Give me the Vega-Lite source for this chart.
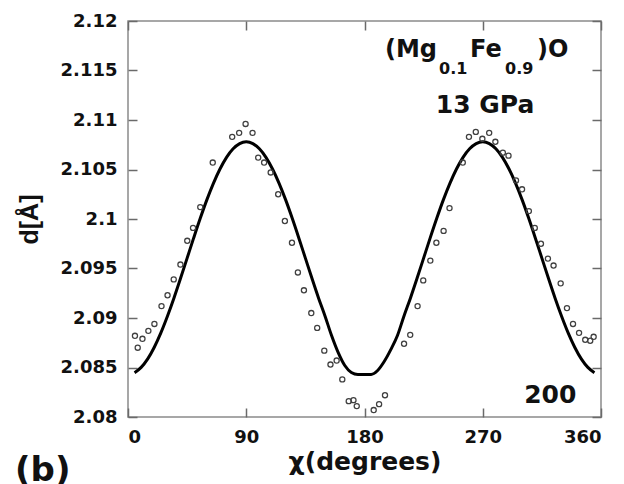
{
  "$schema": "https://vega.github.io/schema/vega-lite/v6.json",
  "width": 473,
  "height": 396,
  "autosize": {"type": "none"},
  "padding": {"left": 128, "top": 21, "right": 23, "bottom": 67},
  "background": "white",
  "config": {
    "view": {"stroke": "#8a8a8a", "strokeWidth": 1.5},
    "axis": {
      "labelFont": "DejaVu Sans", "labelFontWeight": "bold", "labelFontSize": 18, "labelColor": "#111",
      "tickColor": "#6a6a6a", "tickWidth": 1.5, "tickSize": 9, "offset": -9, "domain": false, "grid": false,
      "titleFont": "DejaVu Sans", "titleFontWeight": "bold", "titleColor": "#111"
    }
  },
  "datasets": {
    "fit": [
      {"chi": 5, "d": 2.08448}, {"chi": 10, "d": 2.08501}, {"chi": 15, "d": 2.08587}, {"chi": 20, "d": 2.08705},
      {"chi": 25, "d": 2.0885}, {"chi": 30, "d": 2.09018}, {"chi": 35, "d": 2.09203}, {"chi": 40, "d": 2.09401},
      {"chi": 45, "d": 2.09605}, {"chi": 50, "d": 2.09809}, {"chi": 55, "d": 2.10007}, {"chi": 60, "d": 2.10193},
      {"chi": 65, "d": 2.1036}, {"chi": 70, "d": 2.10505}, {"chi": 75, "d": 2.10623}, {"chi": 80, "d": 2.10709},
      {"chi": 85, "d": 2.10762}, {"chi": 90, "d": 2.1078}, {"chi": 95, "d": 2.10762}, {"chi": 100, "d": 2.10709},
      {"chi": 105, "d": 2.10623}, {"chi": 110, "d": 2.10505}, {"chi": 115, "d": 2.1036}, {"chi": 120, "d": 2.10193},
      {"chi": 125, "d": 2.10007}, {"chi": 130, "d": 2.09809}, {"chi": 135, "d": 2.09605}, {"chi": 140, "d": 2.09401},
      {"chi": 145, "d": 2.09203}, {"chi": 150, "d": 2.09018}, {"chi": 155, "d": 2.0882}, {"chi": 160, "d": 2.0865},
      {"chi": 165, "d": 2.0852}, {"chi": 170, "d": 2.0845}, {"chi": 175, "d": 2.0843}, {"chi": 180, "d": 2.0843},
      {"chi": 185, "d": 2.0843}, {"chi": 190, "d": 2.0847}, {"chi": 195, "d": 2.0856}, {"chi": 200, "d": 2.0868},
      {"chi": 205, "d": 2.0882}, {"chi": 210, "d": 2.09018}, {"chi": 215, "d": 2.09203}, {"chi": 220, "d": 2.09401},
      {"chi": 225, "d": 2.09605}, {"chi": 230, "d": 2.09809}, {"chi": 235, "d": 2.10007}, {"chi": 240, "d": 2.10193},
      {"chi": 245, "d": 2.1036}, {"chi": 250, "d": 2.10505}, {"chi": 255, "d": 2.10623}, {"chi": 260, "d": 2.10709},
      {"chi": 265, "d": 2.10762}, {"chi": 270, "d": 2.1078}, {"chi": 275, "d": 2.10762}, {"chi": 280, "d": 2.10709},
      {"chi": 285, "d": 2.10623}, {"chi": 290, "d": 2.10505}, {"chi": 295, "d": 2.1036}, {"chi": 300, "d": 2.10193},
      {"chi": 305, "d": 2.10007}, {"chi": 310, "d": 2.09809}, {"chi": 315, "d": 2.09605}, {"chi": 320, "d": 2.09401},
      {"chi": 325, "d": 2.09203}, {"chi": 330, "d": 2.09018}, {"chi": 335, "d": 2.0885}, {"chi": 340, "d": 2.08705},
      {"chi": 345, "d": 2.08587}, {"chi": 350, "d": 2.08501}, {"chi": 355, "d": 2.08448}
    ],
    "obs": [
      {"chi": 5.3, "d": 2.0882}, {"chi": 7.4, "d": 2.087}, {"chi": 11.0, "d": 2.0879}, {"chi": 15.5, "d": 2.0887},
      {"chi": 20.1, "d": 2.0894}, {"chi": 25.5, "d": 2.0912}, {"chi": 30.1, "d": 2.0923}, {"chi": 34.8, "d": 2.0939},
      {"chi": 39.9, "d": 2.0954}, {"chi": 45.1, "d": 2.0978}, {"chi": 49.5, "d": 2.0991}, {"chi": 55.0, "d": 2.1012},
      {"chi": 64.5, "d": 2.1057}, {"chi": 79.3, "d": 2.1083}, {"chi": 84.6, "d": 2.1087}, {"chi": 89.5, "d": 2.1096},
      {"chi": 94.8, "d": 2.1087}, {"chi": 99.1, "d": 2.1062}, {"chi": 103.6, "d": 2.1057}, {"chi": 108.6, "d": 2.1047},
      {"chi": 114.3, "d": 2.1025}, {"chi": 119.4, "d": 2.0998}, {"chi": 124.8, "d": 2.0976}, {"chi": 129.3, "d": 2.0946},
      {"chi": 133.9, "d": 2.0928}, {"chi": 139.5, "d": 2.0905}, {"chi": 144.0, "d": 2.089}, {"chi": 149.4, "d": 2.0867},
      {"chi": 154.1, "d": 2.0853}, {"chi": 158.8, "d": 2.0857}, {"chi": 163.1, "d": 2.0838}, {"chi": 168.0, "d": 2.0816},
      {"chi": 171.6, "d": 2.0817}, {"chi": 174.1, "d": 2.0811}, {"chi": 187.0, "d": 2.0807}, {"chi": 191.1, "d": 2.0813},
      {"chi": 195.6, "d": 2.0822}, {"chi": 210.1, "d": 2.0874}, {"chi": 214.8, "d": 2.0883}, {"chi": 220.4, "d": 2.0912},
      {"chi": 224.7, "d": 2.0938}, {"chi": 230.1, "d": 2.0958}, {"chi": 234.7, "d": 2.0976}, {"chi": 240.2, "d": 2.0988},
      {"chi": 244.7, "d": 2.1011}, {"chi": 254.8, "d": 2.1057}, {"chi": 259.5, "d": 2.1083}, {"chi": 264.7, "d": 2.1088},
      {"chi": 269.7, "d": 2.1081}, {"chi": 274.9, "d": 2.1087}, {"chi": 279.6, "d": 2.1078}, {"chi": 285.3, "d": 2.1067},
      {"chi": 289.6, "d": 2.1064}, {"chi": 295.3, "d": 2.1039}, {"chi": 299.9, "d": 2.103}, {"chi": 305.1, "d": 2.1008},
      {"chi": 309.6, "d": 2.0991}, {"chi": 314.3, "d": 2.0975}, {"chi": 319.6, "d": 2.096}, {"chi": 323.9, "d": 2.0953},
      {"chi": 329.3, "d": 2.0935}, {"chi": 334.1, "d": 2.091}, {"chi": 338.7, "d": 2.0894}, {"chi": 343.3, "d": 2.0885},
      {"chi": 348.0, "d": 2.0878}, {"chi": 351.8, "d": 2.0877}, {"chi": 354.4, "d": 2.0881}
    ],
    "formula": [{"chi": 195.6, "d": 2.11634}],
    "pressure": [{"chi": 271.8, "d": 2.1107, "label": "13 GPa"}],
    "refl": [{"chi": 321.4, "d": 2.0814, "label": "200"}],
    "panel": [{"chi": -86, "d": 2.0735, "label": "(b)"}]
  },
  "layer": [
    {
      "data": {"name": "fit"},
      "mark": {"type": "line", "color": "black", "strokeWidth": 3, "interpolate": "monotone"},
      "encoding": {
        "x": {"field": "chi", "type": "quantitative",
              "scale": {"domain": [0, 360], "nice": false, "zero": false},
              "axis": {"orient": "bottom", "values": [0, 90, 180, 270, 360],
                       "labelPadding": 11, "title": "χ(degrees)", "titleFontSize": 25, "titlePadding": 3}},
        "y": {"field": "d", "type": "quantitative",
              "scale": {"domain": [2.08, 2.12], "nice": false, "zero": false},
              "axis": {"orient": "left", "values": [2.08, 2.085, 2.09, 2.095, 2.1, 2.105, 2.11, 2.115, 2.12],
                       "format": ".4~f", "labelPadding": 11,
                       "title": "d[Å]", "titleFont": "Liberation Sans", "titleFontSize": 25, "titlePadding": 18}}
      }
    },
    {
      "data": {"name": "obs"},
      "mark": {"type": "point", "filled": false, "size": 26, "stroke": "#404040", "strokeWidth": 1.3, "opacity": 1},
      "encoding": {
        "x": {"field": "chi", "type": "quantitative",
              "axis": {"orient": "top", "values": [0, 90, 180, 270, 360], "labels": false, "title": null}},
        "y": {"field": "d", "type": "quantitative",
              "axis": {"orient": "right", "values": [2.08, 2.085, 2.09, 2.095, 2.1, 2.105, 2.11, 2.115, 2.12],
                       "labels": false, "title": null}}
      }
    },
    {
      "data": {"name": "formula"},
      "mark": {"type": "text", "text": "(Mg", "align": "left", "baseline": "alphabetic", "font": "DejaVu Sans", "fontWeight": "bold", "fontSize": 24, "color": "#111"},
      "encoding": {"x": {"field": "chi", "type": "quantitative", "axis": null}, "y": {"field": "d", "type": "quantitative", "axis": null}}
    },
    {
      "data": {"name": "formula"},
      "mark": {"type": "text", "text": "0.1", "align": "left", "baseline": "alphabetic", "dx": 54, "dy": 17, "font": "DejaVu Sans", "fontWeight": "bold", "fontSize": 16, "color": "#111"},
      "encoding": {"x": {"field": "chi", "type": "quantitative", "axis": null}, "y": {"field": "d", "type": "quantitative", "axis": null}}
    },
    {
      "data": {"name": "formula"},
      "mark": {"type": "text", "text": "Fe", "align": "left", "baseline": "alphabetic", "dx": 85, "font": "DejaVu Sans", "fontWeight": "bold", "fontSize": 24, "color": "#111"},
      "encoding": {"x": {"field": "chi", "type": "quantitative", "axis": null}, "y": {"field": "d", "type": "quantitative", "axis": null}}
    },
    {
      "data": {"name": "formula"},
      "mark": {"type": "text", "text": "0.9", "align": "left", "baseline": "alphabetic", "dx": 120, "dy": 17, "font": "DejaVu Sans", "fontWeight": "bold", "fontSize": 16, "color": "#111"},
      "encoding": {"x": {"field": "chi", "type": "quantitative", "axis": null}, "y": {"field": "d", "type": "quantitative", "axis": null}}
    },
    {
      "data": {"name": "formula"},
      "mark": {"type": "text", "text": ")O", "align": "left", "baseline": "alphabetic", "dx": 152, "font": "DejaVu Sans", "fontWeight": "bold", "fontSize": 24, "color": "#111"},
      "encoding": {"x": {"field": "chi", "type": "quantitative", "axis": null}, "y": {"field": "d", "type": "quantitative", "axis": null}}
    },
    {
      "data": {"name": "pressure"},
      "mark": {"type": "text", "align": "center", "baseline": "alphabetic", "font": "DejaVu Sans", "fontWeight": "bold", "fontSize": 25, "color": "#111"},
      "encoding": {"x": {"field": "chi", "type": "quantitative", "axis": null}, "y": {"field": "d", "type": "quantitative", "axis": null}, "text": {"field": "label"}}
    },
    {
      "data": {"name": "refl"},
      "mark": {"type": "text", "align": "center", "baseline": "alphabetic", "font": "DejaVu Sans", "fontWeight": "bold", "fontSize": 25, "color": "#111"},
      "encoding": {"x": {"field": "chi", "type": "quantitative", "axis": null}, "y": {"field": "d", "type": "quantitative", "axis": null}, "text": {"field": "label"}}
    },
    {
      "data": {"name": "panel"},
      "mark": {"type": "text", "align": "left", "baseline": "alphabetic", "font": "DejaVu Sans", "fontWeight": "bold", "fontSize": 34, "color": "#111"},
      "encoding": {"x": {"field": "chi", "type": "quantitative", "axis": null}, "y": {"field": "d", "type": "quantitative", "axis": null}, "text": {"field": "label"}}
    }
  ]
}
